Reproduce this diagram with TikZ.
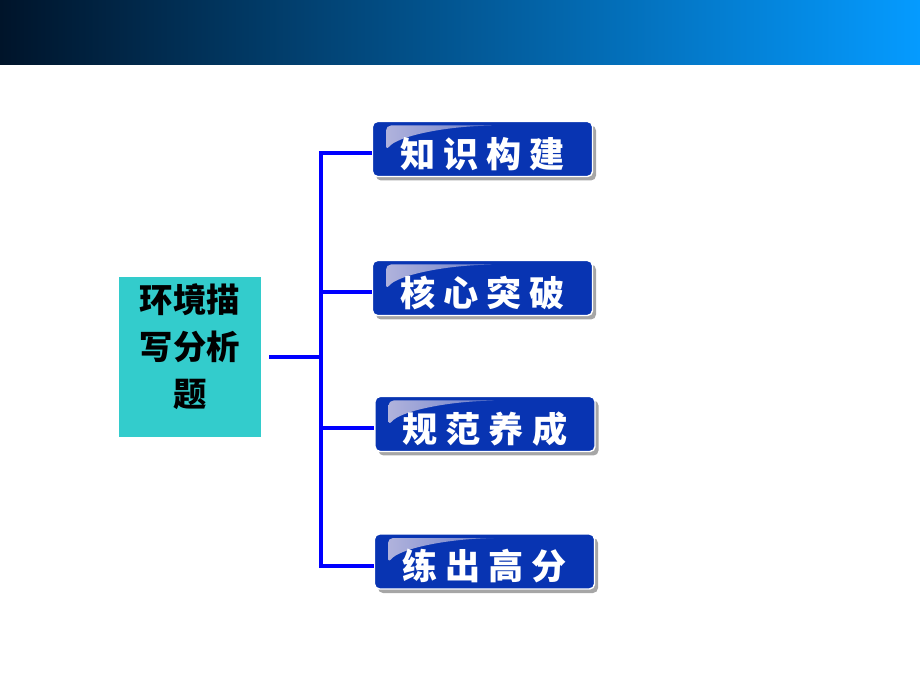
\documentclass[tikz,border=0pt]{standalone}
\usepackage{fontspec}
\newfontfamily\cjk{Noto Sans CJK SC}
\usetikzlibrary{shadows}

\definecolor{boxblue}{RGB}{8,52,178}
\definecolor{glossgray}{RGB}{185,185,222}
\definecolor{topicgreen}{RGB}{51,204,204}
\definecolor{linkblue}{RGB}{0,0,255}
\definecolor{bandleft}{RGB}{0,20,42}
\definecolor{bandmid}{RGB}{0,102,195}
\definecolor{bandright}{RGB}{5,155,255}

% move the text without changing the box
\newcommand{\lift}[2]{\raisebox{#1}[\height][\depth]{#2}}

\tikzset{t_style/.style={fill=topicgreen, minimum width=2.84cm, minimum height=3.2cm,
    font=\cjk\bfseries\fontsize{19}{27}\selectfont}}
\tikzset{p_style/.style={fill=boxblue, draw=white, line width=0.8pt, rounded corners=0.1cm,
    minimum width=4.4cm, minimum height=1.1cm, text=white,
    font=\cjk\bfseries\fontsize{20}{24}\selectfont,
    drop shadow={shadow xshift=0.07cm, shadow yshift=-0.08cm, fill=black!35, opacity=1},
    path picture={\shade[left color=glossgray, right color=boxblue!80!glossgray]
      ([shift={(0.27,-0.08)}]path picture bounding box.north west)
      -- ([shift={(2.44,-0.08)}]path picture bounding box.north west)
      .. controls ([shift={(1.4,-0.1)}]path picture bounding box.north west)
      and ([shift={(0.5,-0.3)}]path picture bounding box.north west)
      .. ([shift={(0.27,-0.58)}]path picture bounding box.north west) -- cycle;}}}
\tikzset{l_style/.style={draw=linkblue, line width=1.8pt}}

\begin{document}
\begin{tikzpicture}
    \useasboundingbox (0,0) rectangle (18.4,13.8);
    \shade[left color=bandleft, middle color=bandmid, right color=bandright] (0,12.5) rectangle (18.4,13.8);

    \node[t_style] (t) at (3.8,6.66) {\lift{4pt}{\begin{tabular}{@{}c@{}}环境描\\写分析\\题\end{tabular}}};

    \node[p_style] (a) at (9.65,10.82) {\lift{-2.8pt}{知\hspace{4.5pt}识\hspace{4.5pt}构\hspace{4.5pt}建}};
    \node[p_style] (b) at (9.65,8.04) {\lift{-2.8pt}{核\hspace{4.5pt}心\hspace{4.5pt}突\hspace{4.5pt}破}};
    \node[p_style] (c) at (9.70,5.32) {\lift{-2.8pt}{规\hspace{4.5pt}范\hspace{4.5pt}养\hspace{4.5pt}成}};
    \node[p_style] (d) at (9.69,2.57) {\lift{-2.8pt}{练\hspace{4.5pt}出\hspace{4.5pt}高\hspace{4.5pt}分}};

    \coordinate (j1) at (6.42,10.74);
    \coordinate (j2) at (6.42,7.96);
    \coordinate (j3) at (6.42,5.24);
    \coordinate (j4) at (6.42,2.48);

    \draw[l_style, shorten <=0.16cm] (t.east) -- (t.east -| j1);
    \draw[l_style] (j1 -| a.west) -- (j1) -- (j4) -- (j4 -| d.west);
    \draw[l_style] (j2) -- (j2 -| b.west);
    \draw[l_style] (j3) -- (j3 -| c.west);

\end{tikzpicture}
\end{document}
